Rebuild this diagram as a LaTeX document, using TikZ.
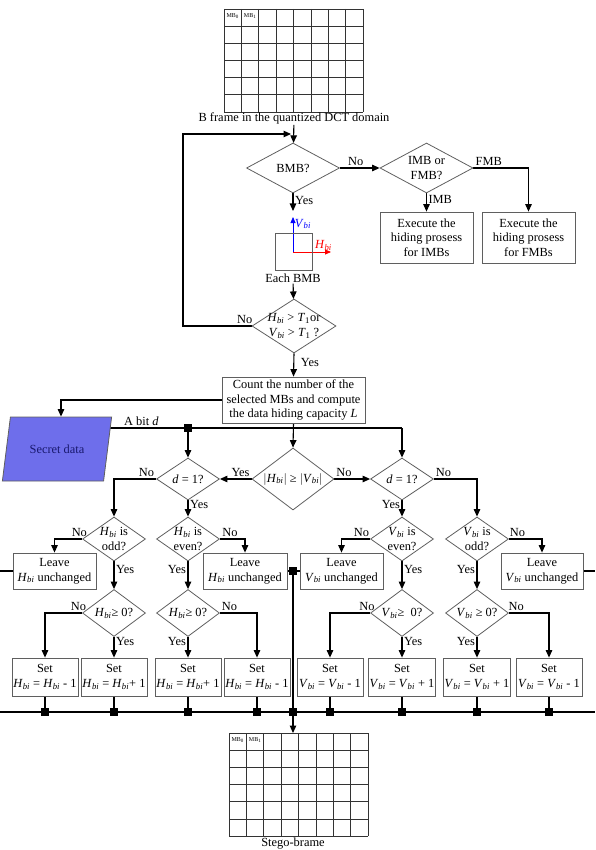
\documentclass[tikz,border=0pt]{standalone}
\usepackage{fontspec}
\setmainfont{Liberation Serif}
\usetikzlibrary{arrows.meta,shapes.geometric,positioning,calc}
\pgfdeclarelayer{wires}
\pgfsetlayers{wires,main}

\newcommand{\flowfont}{\fontsize{12.4}{14.6}\selectfont}
\newcommand{\Hb}{\textit{H}\textsubscript{\textit{bi}}}
\newcommand{\Vb}{\textit{V}\textsubscript{\textit{bi}}}
\newcommand{\Tone}{\textit{T}\textsubscript{1}}

\definecolor{secretblue}{RGB}{110,110,235}
\definecolor{secretink}{RGB}{25,25,110}
\definecolor{edgegray}{RGB}{95,95,95}

\begin{document}
\begin{tikzpicture}[x=1pt,y=-1pt]

  \tikzstyle{every node}=[font=\flowfont]

  \tikzset{
    arr/.style={draw=black,line width=1.1pt,-{Triangle[length=7.5pt,width=6.5pt]}},
    wire/.style={draw=black,line width=1.1pt},
    box/.style={rectangle,draw=edgegray,line width=0.8pt,align=center,inner sep=1pt},
    decision/.style={diamond,draw=edgegray,line width=0.8pt,align=center,inner sep=-5pt,aspect=1.45},
    junc/.style={rectangle,fill=black,minimum size=8pt,inner sep=0pt},
    lbl/.style={inner sep=1.5pt},
    gridline/.style={draw=black!80,line width=0.7pt},
    mblabel/.style={font=\fontsize{6}{6}\selectfont,inner sep=0pt},
    mbgrid/.pic={
      \foreach \c in {0,...,8} \draw[gridline] (\c*17.4,0) -- (\c*17.4,103);
      \foreach \r in {0,...,6} \draw[gridline] (0,\r*17.17) -- (139.2,\r*17.17);
      \node[mblabel] at (8.7,7) {MB\textsubscript{0}};
      \node[mblabel] at (26.1,7) {MB\textsubscript{1}};
    }
  }

  \useasboundingbox (0,0) rectangle (595,850);

  % B frame
  \pic at (224,9) {mbgrid};
  \node[inner sep=1pt] (bframe) at (294,118) {B frame in the quantized DCT domain};
  \coordinate (merge) at (291,134);

  % Macroblock type
  \node[decision,minimum width=93pt,minimum height=50pt] (bmb) at (293,168) {BMB?};
  \node[decision,minimum width=93pt,minimum height=50pt] (imbfmb) at (426.5,168) {IMB or\\FMB?};
  \node[box,minimum width=93pt,minimum height=51pt] (exeimb) at (426.5,237.5) {Execute the\\hiding prosess\\for IMBs};
  \node[box,minimum width=93pt,minimum height=51pt] (exefmb) at (528.5,237.5) {Execute the\\hiding prosess\\for FMBs};

  % Each BMB with its two components
  \node[rectangle,draw=edgegray,line width=0.8pt,minimum size=37pt,inner sep=0pt] (bmbsq) at (293.5,251.5) {};
  \coordinate (axo) at (293,252);
  \coordinate (vtip) at (293,217);
  \coordinate (htip) at (331,252);
  \coordinate (bmbin) at (293,211);
  \node[inner sep=1pt] (eachbmb) at (293,278) {Each BMB};

  % Threshold test
  \node[decision,minimum width=84pt,minimum height=54pt] (thr) at (294,326) {\Hb{} > \Tone{}or\\\Vb{} > \Tone{} ?};
  \coordinate (loopb) at (183,326);
  \coordinate (loopt) at (183,134);

  % Capacity and secret data
  \node[box,minimum width=143pt,minimum height=46pt] (count) at (293.5,400) {Count the number of the\\selected MBs and compute\\the data hiding capacity \textit{L}};
  \node[trapezium,trapezium left angle=71,trapezium right angle=109,trapezium stretches=true,
        minimum width=110pt,minimum height=64pt,draw=edgegray,line width=0.8pt,
        fill=secretblue,text=secretink] (secret) at (57,449) {Secret data};
  \coordinate (bitstart) at (108,428);
  \node[junc] (bitsq) at (188,428) {};
  \coordinate (bitturn) at (402,428);

  % First decisions
  \node[decision,minimum width=82pt,minimum height=62pt] (mid) at (293,479) {$\big|$\Hb$\big|$ ≥ $\big|$\Vb$\big|$};
  \node[decision,minimum width=63pt,minimum height=42pt] (dleft) at (188,479) {\textit{d} = 1?};
  \node[decision,minimum width=63pt,minimum height=42pt] (dright) at (402,479) {\textit{d} = 1?};

  % Parity tests
  \node[decision,minimum width=63pt,minimum height=44pt] (hodd) at (114,539) {\Hb{} is\\odd?};
  \node[decision,minimum width=63pt,minimum height=44pt] (heven) at (188,539) {\Hb{} is\\even?};
  \node[decision,minimum width=63pt,minimum height=44pt] (veven) at (402,539) {\Vb{} is\\even?};
  \node[decision,minimum width=63pt,minimum height=44pt] (vodd) at (477,539) {\Vb{} is\\odd?};

  % Unchanged blocks
  \node[box,minimum width=83pt,minimum height=36pt] (lh1) at (54.5,571) {Leave\\\Hb{} unchanged};
  \node[box,minimum width=84pt,minimum height=36pt] (lh2) at (245,571) {Leave\\\Hb{} unchanged};
  \node[box,minimum width=83pt,minimum height=36pt] (lv1) at (341.5,571) {Leave\\\Vb{} unchanged};
  \node[box,minimum width=82pt,minimum height=36pt] (lv2) at (542,571) {Leave\\\Vb{} unchanged};
  \node[junc] (mjunc) at (293,571) {};
  \coordinate (lstub) at (0,571);
  \coordinate (rstub) at (595,571);

  % Sign tests
  \node[decision,minimum width=63pt,minimum height=47pt] (hge1) at (114,613) {\Hb{}≥ 0?};
  \node[decision,minimum width=63pt,minimum height=47pt] (hge2) at (188,613) {\Hb{}≥ 0?};
  \node[decision,minimum width=63pt,minimum height=47pt] (vge1) at (402,613) {\Vb{}≥\ \ 0?};
  \node[decision,minimum width=63pt,minimum height=47pt] (vge2) at (477,613) {\Vb{} ≥ 0?};

  % Modifications
  \node[box,minimum width=66pt,minimum height=38pt] (s1) at (45,677) {Set\\\Hb{} = \Hb{} - 1};
  \node[box,minimum width=66pt,minimum height=38pt] (s2) at (114,677) {Set\\\Hb{} = \Hb{}+ 1};
  \node[box,minimum width=66pt,minimum height=38pt] (s3) at (188,677) {Set\\\Hb{} = \Hb{}+ 1};
  \node[box,minimum width=66pt,minimum height=38pt] (s4) at (257,677) {Set\\\Hb{} = \Hb{} - 1};
  \node[box,minimum width=66pt,minimum height=38pt] (s5) at (330,677) {Set\\\Vb{} = \Vb{} - 1};
  \node[box,minimum width=66pt,minimum height=38pt] (s6) at (402,677) {Set\\\Vb{} = \Vb{} + 1};
  \node[box,minimum width=66pt,minimum height=38pt] (s7) at (477,677) {Set\\\Vb{} = \Vb{} + 1};
  \node[box,minimum width=66pt,minimum height=38pt] (s8) at (549,677) {Set\\\Vb{} = \Vb{} - 1};

  % Output bus
  \foreach \n/\x in {1/45,2/114,3/188,4/257,5/330,6/402,7/477,8/549}
    \node[junc] (j\n) at (\x,712) {};
  \node[junc] (mbus) at (293,712) {};
  \coordinate (busl) at (0,712);
  \coordinate (busr) at (595,712);

  % Stego frame
  \pic at (229,733) {mbgrid};
  \coordinate (stegotop) at (293,733);
  \node[inner sep=1pt] (stego) at (293,844) {Stego-brame};

  \begin{pgfonlayer}{wires}
    % top part
    \draw[arr] (bframe) -- (bmb);
    \draw[arr] (thr.west) -- node[lbl,above,pos=0.1]{No} (loopb) -- (loopt) -- (merge);
    \draw[arr] (bmb.east) -- node[lbl,above,pos=0.4]{No} (imbfmb.west);
    \draw[arr] (imbfmb.east) -| node[lbl,above,pos=0.14]{FMB} (exefmb.north);
    \draw[arr] (imbfmb.south) -- node[lbl,right,pos=0.35]{IMB} (exeimb.north);
    \draw[arr] (bmb.south) -- node[lbl,right,pos=0.4]{Yes} (bmbin);
    \draw[blue,line width=0.8pt,-{Triangle[length=6pt,width=5pt]}] (axo) -- node[lbl,right,pos=0.8]{\Vb} (vtip);
    \draw[red,line width=0.8pt,-{Triangle[length=6pt,width=5pt]}] (axo) -- node[lbl,above,pos=0.8]{\Hb} (htip);
    \draw[arr] (eachbmb) -- (thr);
    \draw[arr] (thr.south) -- node[lbl,right=5pt,pos=0.4]{Yes} (count.north);

    % secret data and bit
    \draw[arr] (count.west) -| ([xshift=4pt]secret.north);
    \draw[wire] (bitstart) -- node[lbl,above,pos=0.44]{A bit \textit{d}} (bitsq) -- (bitturn);
    \draw[arr] (bitturn) -- (dright.north);
    \draw[arr] (bitsq) -- (dleft.north);
    \draw[arr] (count.south) -- (mid.north);
    \draw[arr] (mid.west) -- node[lbl,above left,pos=0]{Yes} (dleft.east);
    \draw[arr] (mid.east) -- node[lbl,above right,pos=0]{No} (dright.west);
    \draw[arr] (dleft.west) -| node[lbl,above left,pos=0]{No} (hodd.north);
    \draw[arr] (dleft.south) -- node[lbl,right,pos=0.25]{Yes} (heven.north);
    \draw[arr] (dright.east) -| node[lbl,above right,pos=0]{No} (vodd.north);
    \draw[arr] (dright.south) -- node[lbl,left,pos=0.25]{Yes} (veven.north);

    % parity
    \draw[arr] (hodd.west) -| node[lbl,above,pos=0.05]{No} (lh1.north);
    \draw[arr] (hodd.south) -- node[lbl,right,pos=0.3]{Yes} (hge1.north);
    \draw[arr] (heven.east) -| node[lbl,above,pos=0.2]{No} (lh2.north);
    \draw[arr] (heven.south) -- node[lbl,left,pos=0.3]{Yes} (hge2.north);
    \draw[arr] (veven.west) -| node[lbl,above,pos=0.15]{No} (lv1.north);
    \draw[arr] (veven.south) -- node[lbl,right,pos=0.3]{Yes} (vge1.north);
    \draw[arr] (vodd.east) -| node[lbl,above,pos=0.13]{No} (lv2.north);
    \draw[arr] (vodd.south) -- node[lbl,left,pos=0.3]{Yes} (vge2.north);

    % sign
    \draw[arr] (hge1.west) -| node[lbl,above,pos=0.05]{No} (s1.north);
    \draw[arr] (hge1.south) -- node[lbl,right,pos=0.2]{Yes} (s2.north);
    \draw[arr] (hge2.east) -| node[lbl,above,pos=0.13]{No} (s4.north);
    \draw[arr] (hge2.south) -- node[lbl,left,pos=0.2]{Yes} (s3.north);
    \draw[arr] (vge1.west) -| node[lbl,above,pos=0.04]{No} (s5.north);
    \draw[arr] (vge1.south) -- node[lbl,right,pos=0.2]{Yes} (s6.north);
    \draw[arr] (vge2.east) -| node[lbl,above,pos=0.09]{No} (s8.north);
    \draw[arr] (vge2.south) -- node[lbl,left,pos=0.2]{Yes} (s7.north);

    % collecting lines
    \draw[wire] (lh1.west) -- (lstub);
    \draw[wire] (lv2.east) -- (rstub);
    \draw[wire] (lh2.east) -- (mjunc) -- (lv1.west);
    \draw[wire] (busl) -- (busr);
    \foreach \n in {1,...,8}
      \draw[wire] (s\n.south) -- (j\n);
    \draw[wire] (mjunc) -- (mbus);
    \draw[arr] (mbus) -- (stegotop);
  \end{pgfonlayer}

\end{tikzpicture}
\end{document}
